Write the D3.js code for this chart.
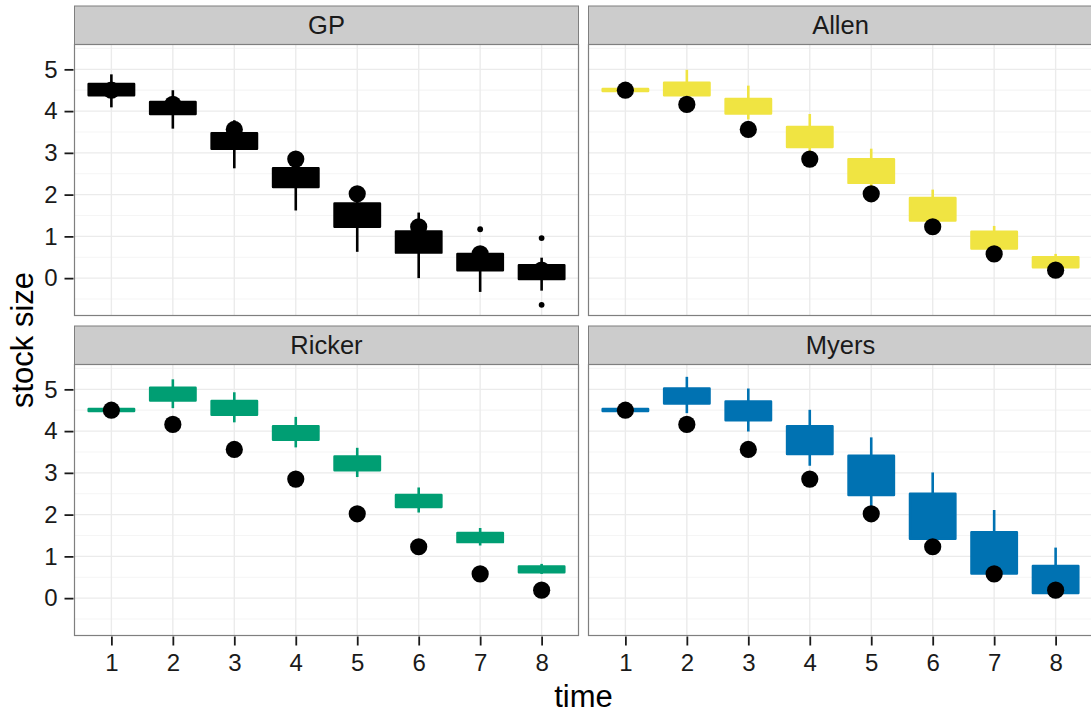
<!DOCTYPE html>
<html>
<head>
<meta charset="utf-8">
<script src="https://cdn.jsdelivr.net/npm/d3@7"></script>
<style>
  html, body { margin: 0; padding: 0; background: #fff; }
  svg { display: block; font-family: "Liberation Sans", Arial, Helvetica, sans-serif; }
</style>
</head>
<body>
<svg id="chart" width="1091" height="713"></svg>
<script>
// Stock size forecasts by model: box = interquartile range, whiskers = lower/upper,
// black dots = observed stock size.
const times = [1, 2, 3, 4, 5, 6, 7, 8];
const models = ["GP", "Allen", "Ricker", "Myers"];
const modelColors = ["#000000", "#F0E442", "#009E73", "#0072B2"];
const observed = [4.5, 4.16, 3.56, 2.85, 2.02, 1.23, 0.58, 0.19];

// [lower whisker, Q1, Q3, upper whisker] per time step
const gpBoxes = [
  [4.09, 4.38, 4.65, 4.88], [3.58, 3.93, 4.22, 4.50], [2.63, 3.10, 3.47, 3.78], [1.62, 2.18, 2.63, 2.95],
  [0.63, 1.23, 1.79, 2.10], [0.00, 0.61, 1.12, 1.57], [-0.33, 0.19, 0.58, 0.75], [-0.30, -0.02, 0.31, 0.49]
];
const allenBoxes = [
  [4.47, 4.48, 4.53, 4.54], [4.30, 4.38, 4.68, 4.99], [3.80, 3.94, 4.29, 4.61], [2.95, 3.14, 3.62, 3.93],
  [2.15, 2.28, 2.85, 3.10], [1.30, 1.38, 1.92, 2.12], [0.60, 0.71, 1.11, 1.25], [0.20, 0.26, 0.50, 0.58]
];
const rickerBoxes = [
  [4.47, 4.48, 4.53, 4.54], [4.55, 4.73, 5.04, 5.24], [4.21, 4.39, 4.72, 4.93], [3.61, 3.79, 4.12, 4.34],
  [2.90, 3.06, 3.39, 3.60], [2.05, 2.18, 2.47, 2.65], [1.26, 1.34, 1.56, 1.68], [0.58, 0.62, 0.76, 0.82]
];
const myersBoxes = [
  [4.47, 4.48, 4.53, 4.54], [4.43, 4.66, 5.02, 5.30], [3.99, 4.26, 4.71, 5.02], [3.17, 3.45, 4.12, 4.51],
  [2.20, 2.47, 3.41, 3.85], [1.20, 1.42, 2.50, 3.01], [0.40, 0.59, 1.58, 2.11], [0.00, 0.12, 0.77, 1.21]
];
const boxesByModel = [gpBoxes, allenBoxes, rickerBoxes, myersBoxes];

// outlying draws, [time, value]
const gpOutliers = [[7, 1.17], [8, 0.96], [8, -0.64]];
const outliersByModel = [gpOutliers, [], [], []];

const yTicks = [0, 1, 2, 3, 4, 5];
const yMinor = [-0.5, 0.5, 1.5, 2.5, 3.5, 4.5, 5.5];

// layout
const panelW = 504, panelH = 271, stripH = 38.5;
const colX = [74.5, 588.5];
const rowY = [44.5, 364.5];
const boxWidth = 0.74;

const svg = d3.select("#chart");

const x = d3.scaleLinear().domain([0.4, 8.6]).range([0, panelW]);
const y = d3.scaleLinear().domain([-0.895, 5.595]).range([panelH, 0]);

models.forEach((name, i) => {
  const col = i % 2, row = Math.floor(i / 2);
  const color = modelColors[i];
  const g = svg.append("g").attr("transform", `translate(${colX[col]},${rowY[row]})`);

  // strip
  g.append("rect")
    .attr("x", 0).attr("y", -stripH).attr("width", panelW).attr("height", stripH)
    .attr("fill", "#CCCCCC").attr("stroke", "#7F7F7F").attr("stroke-width", 1);
  g.append("text")
    .attr("x", panelW / 2).attr("y", -stripH / 2).attr("dy", "0.36em")
    .attr("text-anchor", "middle").attr("font-size", 25.5).attr("fill", "#1a1a1a")
    .text(name);

  // panel background + grid
  g.append("rect").attr("width", panelW).attr("height", panelH).attr("fill", "#fff");
  const grid = g.append("g").attr("fill", "none");
  grid.selectAll(".minor").data(yMinor).join("line")
    .attr("x1", 0).attr("x2", panelW)
    .attr("y1", d => y(d)).attr("y2", d => y(d))
    .attr("stroke", "#F5F5F5").attr("stroke-width", 1.2);
  grid.selectAll(".majorY").data(yTicks).join("line")
    .attr("x1", 0).attr("x2", panelW)
    .attr("y1", d => y(d)).attr("y2", d => y(d))
    .attr("stroke", "#EBEBEB").attr("stroke-width", 1.4);
  grid.selectAll(".majorX").data(times).join("line")
    .attr("y1", 0).attr("y2", panelH)
    .attr("x1", d => x(d)).attr("x2", d => x(d))
    .attr("stroke", "#EBEBEB").attr("stroke-width", 1.4);

  const marks = g.append("g");
  const boxes = boxesByModel[i];
  const bw = x(boxWidth) - x(0);

  // whiskers
  marks.selectAll(".whisker").data(boxes).join("line")
    .attr("x1", (d, k) => x(times[k])).attr("x2", (d, k) => x(times[k]))
    .attr("y1", d => y(d[0])).attr("y2", d => y(d[3]))
    .attr("stroke", color).attr("stroke-width", 2.6);

  // boxes
  marks.selectAll(".box").data(boxes).join("rect")
    .attr("x", (d, k) => x(times[k]) - bw / 2)
    .attr("width", bw)
    .attr("y", d => y(d[2]))
    .attr("height", d => y(d[1]) - y(d[2]))
    .attr("fill", color).attr("stroke", color)
    .attr("stroke-width", 2.4).attr("stroke-linejoin", "round");

  // outliers
  marks.selectAll(".outlier").data(outliersByModel[i]).join("circle")
    .attr("cx", d => x(d[0])).attr("cy", d => y(d[1])).attr("r", 2.9)
    .attr("fill", color);

  // observed stock
  marks.selectAll(".obs").data(observed).join("circle")
    .attr("cx", (d, k) => x(times[k])).attr("cy", d => y(d)).attr("r", 8.6)
    .attr("fill", "#000");

  // panel border
  g.append("rect").attr("width", panelW).attr("height", panelH)
    .attr("fill", "none").attr("stroke", "#7F7F7F").attr("stroke-width", 1.2);

  // axes
  if (col === 0) {
    const ay = g.append("g").call(d3.axisLeft(y).tickValues(yTicks).tickSize(9).tickPadding(8).tickFormat(d3.format("d")));
    ay.select(".domain").remove();
    ay.selectAll("line").attr("stroke", "#1a1a1a").attr("stroke-width", 1.8).attr("transform", "translate(-1,0)");
    ay.selectAll("text").attr("font-size", 24).attr("fill", "#1a1a1a").attr("font-family", null);
  }
  if (row === 1) {
    const ax = g.append("g").attr("transform", `translate(0,${panelH})`)
      .call(d3.axisBottom(x).tickValues(times).tickSize(9).tickPadding(9).tickFormat(d3.format("d")));
    ax.select(".domain").remove();
    ax.selectAll("line").attr("stroke", "#1a1a1a").attr("stroke-width", 1.8).attr("transform", "translate(0,1)");
    ax.selectAll("text").attr("font-size", 24).attr("fill", "#1a1a1a").attr("font-family", null);
  }
});

// axis titles
svg.append("text")
  .attr("x", (colX[0] + colX[1] + panelW) / 2).attr("y", 707)
  .attr("text-anchor", "middle").attr("font-size", 31).attr("fill", "#000")
  .text("time");
svg.append("text")
  .attr("transform", `translate(33,${(rowY[0] + rowY[1] + panelH) / 2}) rotate(-90)`)
  .attr("text-anchor", "middle").attr("font-size", 31).attr("fill", "#000")
  .text("stock size");
</script>
</body>
</html>
